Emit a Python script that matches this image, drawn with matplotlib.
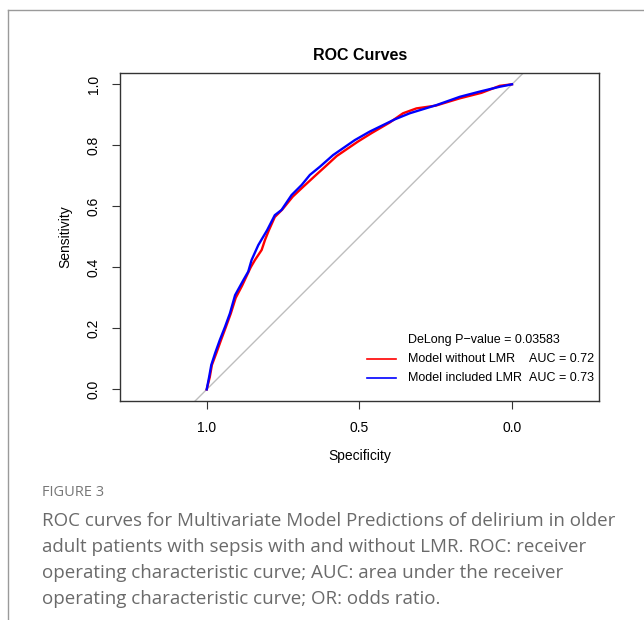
import matplotlib.pyplot as plt
from matplotlib.lines import Line2D

# ROC points (specificity, sensitivity)
spec_blue = [1.0, 0.992, 0.985, 0.972, 0.957, 0.940, 0.924, 0.907, 0.880, 0.864, 0.853,
             0.831, 0.802, 0.777, 0.755, 0.722, 0.689, 0.662, 0.629, 0.586, 0.515,
             0.466, 0.384, 0.335, 0.247, 0.171, 0.106, 0.040, 0.0]
sens_blue = [0.0, 0.041, 0.080, 0.120, 0.162, 0.205, 0.249, 0.309, 0.358, 0.386, 0.424,
             0.473, 0.522, 0.571, 0.588, 0.637, 0.670, 0.703, 0.730, 0.768, 0.817,
             0.845, 0.885, 0.905, 0.932, 0.959, 0.976, 0.992, 1.0]

spec_red = [1.0, 0.990, 0.983, 0.968, 0.953, 0.937, 0.921, 0.905, 0.884, 0.870, 0.856,
            0.842, 0.820, 0.809, 0.797, 0.777, 0.752, 0.718, 0.684, 0.645, 0.612,
            0.574, 0.505, 0.460, 0.400, 0.357, 0.313, 0.250, 0.171, 0.100, 0.040, 0.0]
sens_red = [0.0, 0.040, 0.080, 0.120, 0.162, 0.205, 0.249, 0.300, 0.340, 0.370, 0.400,
            0.424, 0.457, 0.490, 0.520, 0.565, 0.590, 0.632, 0.664, 0.700, 0.730,
            0.765, 0.812, 0.840, 0.875, 0.905, 0.921, 0.930, 0.954, 0.972, 0.995, 1.0]

legend_title = "DeLong P\u2212value = 0.03583"
model_names = ["Model without LMR", "Model included LMR"]
auc_labels = ["AUC = 0.72", "AUC = 0.73"]
caption_head = "FIGURE 3"
caption = ("ROC curves for Multivariate Model Predictions of delirium in older\n"
           "adult patients with sepsis with and without LMR. ROC: receiver\n"
           "operating characteristic curve; AUC: area under the receiver\n"
           "operating characteristic curve; OR: odds ratio.")

plt.rcParams['font.family'] = ['Liberation Sans', 'DejaVu Sans']

fig = plt.figure(figsize=(6.44, 6.2), dpi=100)
ax = fig.add_axes([120/644, 1-401.3/620, 479.3/644, 328.6/620])

ax.axline((1, 0), (0, 1), color='#bebebe', lw=1)
ax.plot(spec_red, sens_red, color='#ff0000', lw=1.7)
ax.plot(spec_blue, sens_blue, color='#0000ff', lw=1.7)

ax.set_xlim(1.284, -0.286)
ax.set_ylim(-0.039, 1.038)
ax.set_xticks([1.0, 0.5, 0.0])
ax.set_xticklabels(["1.0", "0.5", "0.0"])
ax.set_yticks([0.0, 0.2, 0.4, 0.6, 0.8, 1.0])
ax.set_yticklabels(["0.0", "0.2", "0.4", "0.6", "0.8", "1.0"], rotation=90, va='center')
ax.tick_params(length=6, width=0.8, labelsize=10, pad=8, color='#333333')
for s in ax.spines.values():
    s.set_linewidth(1)
    s.set_color('#333333')
ax.set_xlabel("Specificity", fontsize=10, labelpad=10)
ax.set_ylabel("Sensitivity", fontsize=10, labelpad=10)
ax.set_title("ROC Curves", fontsize=11.5, fontweight='bold', pad=9)

# legend (drawn by hand, R style, no box)
ax.text(0.601, 0.1866, legend_title, transform=ax.transAxes, fontsize=9, va='center')
for i, (name, auc, col) in enumerate(zip(model_names, auc_labels, ['#ff0000', '#0000ff'])):
    yy = 0.128 - i*0.058
    ax.add_line(Line2D([0.515, 0.576], [yy, yy], transform=ax.transAxes, color=col, lw=1.2))
    ax.text(0.601, yy, name, transform=ax.transAxes, fontsize=9, va='center')
    ax.text(0.853, yy, auc, transform=ax.transAxes, fontsize=9, va='center')

# page frame lines
fig.add_artist(Line2D([8/644, 1], [1-10/620, 1-10/620], color='#9a9a9a', lw=1))
fig.add_artist(Line2D([8/644, 8/644], [0, 1-10/620], color='#9a9a9a', lw=1))

fig.text(42/644, 1-492/620, caption_head, fontsize=10.5, color='#777777',
         family=['Open Sans', 'DejaVu Sans'], va='center')
fig.text(42/644, 1-512/620, caption, fontsize=13.5, color='#6a6a6a',
         family=['Open Sans', 'DejaVu Sans'], va='top', linespacing=1.58)

fig.savefig('out.png', dpi=100)
